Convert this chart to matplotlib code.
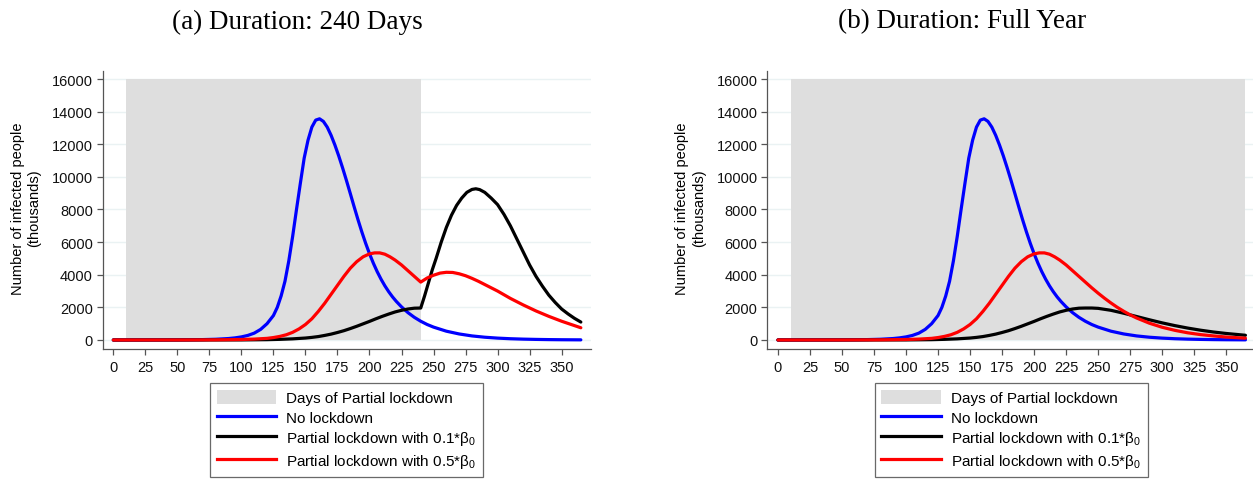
import matplotlib
matplotlib.use("Agg")
import matplotlib.pyplot as plt
import numpy as np
from matplotlib.patches import Patch
from matplotlib.lines import Line2D

plt.rcParams['font.family'] = ['Liberation Sans', 'DejaVu Sans']
plt.rcParams['mathtext.fontset'] = 'custom'
plt.rcParams['mathtext.rm'] = 'Liberation Sans'

# no lockdown (same in both panels)
days_none = [0, 10, 20, 30, 40, 50, 60, 70, 80, 90, 95, 100, 105, 110, 115, 120, 125, 128, 131, 134,
             137, 140, 143, 146, 149, 152, 155, 158, 161, 164, 167, 170, 173, 176, 179, 182, 185, 188,
             191, 194, 197, 200, 203, 206, 209, 212, 215, 218, 221, 225, 230, 235, 240, 245, 250, 260,
             270, 280, 290, 300, 310, 320, 330, 340, 350, 365]
no_lockdown = [0, 1, 2, 3, 5, 8, 14, 25, 45, 90, 130, 190, 280, 420, 650, 1000, 1500, 2000, 2700, 3600,
               4850, 6350, 8000, 9600, 11150, 12250, 13050, 13480, 13560, 13400, 13050, 12550, 11950, 11280,
               10550, 9780, 8980, 8170, 7380, 6630, 5930, 5290, 4710, 4190, 3730, 3320, 2960, 2640,
               2360, 2030, 1680, 1390, 1150, 950, 790, 540, 370, 250, 170, 115, 78, 53, 36, 24, 16, 9]

# lockdown part, days 0-240, shared by both panels
days_low = [0, 50, 100, 120, 130, 140, 150, 155, 160, 165, 170, 175, 180, 185, 190, 195, 200, 205,
            210, 215, 220, 225, 230, 235, 240]
low_lock = [0, 1, 5, 20, 40, 70, 120, 160, 210, 280, 360, 460, 570, 700, 840, 990, 1140, 1300,
            1450, 1590, 1720, 1820, 1900, 1950, 1960]
days_high = [0, 50, 80, 100, 110, 120, 125, 130, 135, 140, 145, 150, 155, 160, 165, 170, 175, 180,
             185, 190, 195, 200, 204, 208, 212, 216, 220, 225, 230, 235, 240]
high_lock = [0, 2, 10, 30, 55, 100, 150, 220, 320, 470, 680, 950, 1300, 1750, 2250, 2800, 3350, 3900,
             4400, 4800, 5100, 5280, 5340, 5340, 5260, 5100, 4900, 4600, 4250, 3900, 3550]

# (a) lockdown lifted after day 240
days_low_a = [243, 246, 249, 252, 256, 260, 264, 268, 272, 276, 280, 283, 286, 290, 295, 300, 305,
              310, 315, 320, 325, 330, 335, 340, 345, 350, 355, 360, 365]
low_a = [2700, 3500, 4300, 5000, 6000, 6900, 7650, 8250, 8700, 9050, 9230, 9270, 9220, 9050, 8700,
         8300, 7700, 7000, 6200, 5400, 4600, 3900, 3300, 2750, 2300, 1900, 1600, 1330, 1100]
days_high_a = [245, 250, 255, 260, 265, 270, 275, 280, 285, 290, 300, 310, 320, 330, 340, 350, 365]
high_a = [3800, 3970, 4100, 4150, 4140, 4060, 3940, 3780, 3600, 3400, 3000, 2550, 2150, 1780, 1450,
          1150, 750]

# (b) lockdown kept for the full year
days_low_b = [245, 250, 260, 270, 280, 290, 300, 310, 320, 330, 340, 350, 365]
low_b = [1960, 1940, 1820, 1640, 1440, 1240, 1050, 880, 730, 600, 490, 400, 290]
days_high_b = [245, 250, 255, 260, 265, 270, 275, 280, 290, 300, 310, 320, 330, 340, 350, 365]
high_b = [3200, 2870, 2560, 2270, 2000, 1760, 1540, 1350, 1030, 780, 590, 440, 330, 250, 180, 110]

panels = [
    ("(a) Duration: 240 Days", (10, 240), days_low_a, low_a, days_high_a, high_a),
    ("(b) Duration: Full Year", (10, 365), days_low_b, low_b, days_high_b, high_b),
]

legend_labels = ["Days of Partial lockdown", "No lockdown",
                 "Partial lockdown with 0.1*β$_\\mathregular{0}$",
                 "Partial lockdown with 0.5*β$_\\mathregular{0}$"]

shade = '#dedede'
W, H = 1253, 481
fig = plt.figure(figsize=(W / 100, H / 100), dpi=100)

for i, (title, span, dla, la, dha, ha) in enumerate(panels):
    left = [102.7, 767.3][i]
    ax = fig.add_axes([left / W, 1 - 350 / H, 488 / W, 278.3 / H])

    ax.set_axisbelow(True)
    ax.grid(axis='y', color='#eaf2f3', linewidth=1)
    ax.fill_between(span, 0, 16000, color=shade, linewidth=0, zorder=1)

    style = dict(lw=2.3, solid_capstyle='round', solid_joinstyle='round')
    ax.plot(days_none, no_lockdown, color='blue', zorder=3, **style)
    ax.plot(days_low + dla, low_lock + la, color='black', zorder=4, **style)
    ax.plot(days_high + dha, high_lock + ha, color='red', zorder=5, **style)

    ax.set_xlim(-8.3, 372.7)
    ax.set_ylim(-552, 16509)
    ax.set_xticks(np.arange(0, 351, 25))
    ax.set_yticks(np.arange(0, 16001, 2000))
    ax.tick_params(labelsize=10.5, length=4, width=0.9, color='#555555', pad=3, labelcolor='#111111')
    ax.tick_params(axis='x', pad=4)
    for s in ['top', 'right']:
        ax.spines[s].set_visible(False)
    for s in ['left', 'bottom']:
        ax.spines[s].set_color('#555555')
        ax.spines[s].set_linewidth(0.9)

    fig.text((left - 76.7) / W, 1 - 208.5 / H, "Number of infected people\n(thousands)",
             rotation=90, ha='center', va='center', multialignment='center', fontsize=10.5)
    fig.text((left + 244 - 49.2) / W, 1 - 22 / H, title, ha='center', va='center',
             fontsize=19.5, family='Liberation Serif')

    handles = [Patch(facecolor=shade, edgecolor='none'),
               Line2D([], [], color='blue', lw=2.3),
               Line2D([], [], color='black', lw=2.3),
               Line2D([], [], color='red', lw=2.3)]
    leg = ax.legend(handles, legend_labels, loc='upper center', bbox_to_anchor=(0.5, -0.122),
                    fontsize=11, frameon=True, fancybox=False, edgecolor='#444444',
                    handlelength=3.9, handleheight=1.0, handletextpad=0.65, labelspacing=0.3,
                    borderpad=0.45, borderaxespad=0)
    leg.get_frame().set_linewidth(0.9)

fig.savefig("out.png", dpi=100)
